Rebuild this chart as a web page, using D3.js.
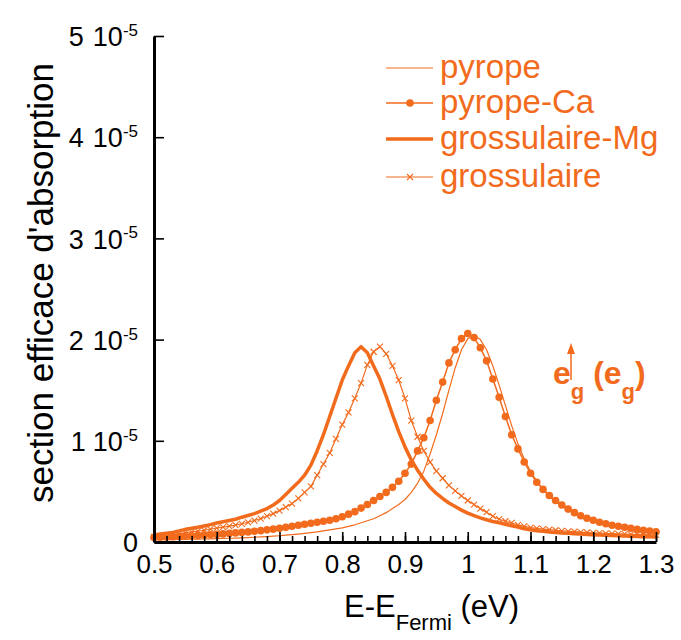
<!DOCTYPE html>
<html>
<head>
  <meta charset="utf-8">
  <title>section efficace d'absorption</title>
  <script src="https://cdn.jsdelivr.net/npm/d3@7/dist/d3.min.js"></script>
  <style>
    body { margin: 0; background: #fff; }
    text { font-family: "Liberation Sans", Arial, sans-serif; }
  </style>
</head>
<body>
  <svg width="681" height="640" id="mainsvg"></svg>
  <script>
    // energies (eV), values in units of 1e-5
    const energies = [0.50, 0.51, 0.52, 0.53, 0.54, 0.55, 0.56, 0.57, 0.58, 0.59,
      0.60, 0.61, 0.62, 0.63, 0.64, 0.65, 0.66, 0.67, 0.68, 0.69,
      0.70, 0.71, 0.72, 0.73, 0.74, 0.75, 0.76, 0.77, 0.78, 0.79,
      0.80, 0.81, 0.82, 0.83, 0.84, 0.85, 0.86, 0.87, 0.88, 0.89,
      0.90, 0.91, 0.92, 0.93, 0.94, 0.95, 0.96, 0.97, 0.98, 0.99,
      1.00, 1.01, 1.02, 1.03, 1.04, 1.05, 1.06, 1.07, 1.08, 1.09,
      1.10, 1.11, 1.12, 1.13, 1.14, 1.15, 1.16, 1.17, 1.18, 1.19,
      1.20, 1.21, 1.22, 1.23, 1.24, 1.25, 1.26, 1.27, 1.28, 1.29, 1.30];

    const pyrope = [0.021, 0.022, 0.023, 0.024, 0.025, 0.026, 0.027, 0.028, 0.030, 0.031,
      0.033, 0.035, 0.037, 0.039, 0.041, 0.044, 0.047, 0.050, 0.054, 0.058,
      0.062, 0.067, 0.072, 0.078, 0.085, 0.092, 0.100, 0.110, 0.120, 0.130,
      0.140, 0.155, 0.170, 0.190, 0.210, 0.230, 0.260, 0.290, 0.330, 0.370,
      0.420, 0.490, 0.580, 0.700, 0.870, 1.060, 1.270, 1.500, 1.720, 1.900,
      2.010, 2.040, 2.000, 1.900, 1.740, 1.550, 1.350, 1.150, 0.970, 0.820,
      0.700, 0.600, 0.520, 0.450, 0.400, 0.355, 0.315, 0.280, 0.250, 0.225,
      0.205, 0.185, 0.170, 0.155, 0.143, 0.132, 0.122, 0.113, 0.105, 0.098, 0.092];

    const pyropeCa = [0.045, 0.047, 0.050, 0.052, 0.055, 0.058, 0.062, 0.065, 0.068, 0.072,
      0.075, 0.080, 0.085, 0.090, 0.095, 0.100, 0.105, 0.112, 0.120, 0.127,
      0.135, 0.145, 0.155, 0.165, 0.175, 0.185, 0.195, 0.205, 0.215, 0.230,
      0.250, 0.275, 0.300, 0.335, 0.370, 0.410, 0.450, 0.490, 0.540, 0.600,
      0.680, 0.770, 0.900, 1.030, 1.200, 1.400, 1.580, 1.770, 1.900, 2.010,
      2.060, 2.020, 1.920, 1.790, 1.610, 1.430, 1.240, 1.060, 0.920, 0.790,
      0.680, 0.590, 0.520, 0.460, 0.410, 0.365, 0.325, 0.290, 0.260, 0.235,
      0.215, 0.195, 0.180, 0.165, 0.155, 0.145, 0.135, 0.125, 0.115, 0.108, 0.100];

    const grossulaireMg = [0.070, 0.078, 0.086, 0.094, 0.110, 0.125, 0.135, 0.145, 0.158, 0.172,
      0.188, 0.200, 0.212, 0.225, 0.245, 0.262, 0.280, 0.305, 0.330, 0.365,
      0.410, 0.470, 0.530, 0.590, 0.660, 0.760, 0.900, 1.060, 1.240, 1.420,
      1.600, 1.740, 1.870, 1.930, 1.870, 1.740, 1.610, 1.440, 1.260, 1.090,
      0.940, 0.810, 0.710, 0.620, 0.540, 0.480, 0.430, 0.385, 0.350, 0.315,
      0.285, 0.260, 0.238, 0.220, 0.203, 0.190, 0.175, 0.160, 0.148, 0.130,
      0.120, 0.112, 0.105, 0.099, 0.094, 0.090, 0.086, 0.082, 0.078, 0.075,
      0.072, 0.069, 0.066, 0.063, 0.061, 0.059, 0.057, 0.055, 0.053, 0.051, 0.050];

    const grossulaire = [0.050, 0.058, 0.065, 0.072, 0.080, 0.092, 0.100, 0.108, 0.116, 0.127,
      0.138, 0.147, 0.156, 0.167, 0.180, 0.195, 0.212, 0.230, 0.255, 0.280,
      0.310, 0.345, 0.380, 0.430, 0.490, 0.550, 0.660, 0.770, 0.880, 1.020,
      1.160, 1.280, 1.420, 1.570, 1.750, 1.880, 1.930, 1.860, 1.740, 1.600,
      1.420, 1.200, 1.040, 0.900, 0.790, 0.700, 0.630, 0.560, 0.505, 0.455,
      0.410, 0.370, 0.330, 0.295, 0.255, 0.225, 0.205, 0.188, 0.170, 0.155,
      0.142, 0.135, 0.128, 0.122, 0.116, 0.111, 0.106, 0.102, 0.098, 0.094,
      0.090, 0.087, 0.085, 0.082, 0.080, 0.078, 0.076, 0.074, 0.072, 0.071, 0.070];

    const seriesNames = ['pyrope', 'pyrope-Ca', 'grossulaire-Mg', 'grossulaire'];
    const xTicks = [0.5, 0.6, 0.7, 0.8, 0.9, 1, 1.1, 1.2, 1.3];
    const yTicks = [0, 1, 2, 3, 4, 5];

    const orange = '#f26b1d';
    const svg = d3.select('#mainsvg');

    const xScale = d3.scaleLinear().domain([0.5, 1.3]).range([154, 656]);
    const yScale = d3.scaleLinear().domain([0, 5]).range([542, 36]);

    const series = [
      { name: seriesNames[0], values: pyrope, width: 1.2, marker: 'none' },
      { name: seriesNames[1], values: pyropeCa, width: 1.5, marker: 'dot' },
      { name: seriesNames[2], values: grossulaireMg, width: 3.5, marker: 'none' },
      { name: seriesNames[3], values: grossulaire, width: 1.2, marker: 'cross' }
    ];

    const line = d3.line()
      .x((d, i) => xScale(energies[i]))
      .y(d => yScale(d));

    const plot = svg.append('g');
    series.forEach(s => {
      plot.append('path')
        .attr('d', line(s.values))
        .attr('fill', 'none')
        .attr('stroke', orange)
        .attr('stroke-width', s.width)
        .attr('stroke-linejoin', 'round');
      if (s.marker === 'dot') {
        plot.selectAll(null).data(s.values).enter().append('circle')
          .attr('cx', (d, i) => xScale(energies[i]))
          .attr('cy', d => yScale(d))
          .attr('r', 3.8)
          .attr('fill', orange);
      }
      if (s.marker === 'cross') {
        plot.selectAll(null).data(s.values).enter().append('path')
          .attr('transform', (d, i) => `translate(${xScale(energies[i])},${yScale(d)})`)
          .attr('d', 'M-3,-3L3,3M-3,3L3,-3')
          .attr('stroke', orange)
          .attr('stroke-width', 1.1);
      }
    });

    // x axis, ticks inward
    const xMinor = d3.axisBottom(xScale)
      .tickValues(d3.range(0.5, 1.301, 0.02))
      .tickSizeInner(-6).tickSizeOuter(0).tickFormat('');
    svg.append('g').attr('transform', 'translate(0,542)').call(xMinor)
      .call(g => g.select('.domain').remove())
      .selectAll('line').attr('stroke', '#000').attr('stroke-width', 1.6);

    const xAxis = d3.axisBottom(xScale)
      .tickValues(xTicks)
      .tickSizeInner(-10).tickSizeOuter(0).tickPadding(13)
      .tickFormat(d => d3.format('')(d));
    const xg = svg.append('g').attr('transform', 'translate(0,542)').call(xAxis);
    xg.select('.domain').attr('stroke', '#000').attr('stroke-width', 3);
    xg.selectAll('line').attr('stroke-width', 1.6);
    xg.selectAll('text').attr('font-size', 26).attr('fill', '#000')
      .style('font-family', '"Liberation Sans", Arial, sans-serif');

    // y axis
    const yAxis = d3.axisLeft(yScale)
      .tickValues(yTicks)
      .tickSizeInner(-10).tickSizeOuter(0).tickFormat('');
    const yg = svg.append('g').attr('transform', 'translate(154,0)').call(yAxis);
    yg.select('.domain').attr('stroke', '#000').attr('stroke-width', 3);
    yg.selectAll('line').attr('stroke-width', 1.6);
    yg.selectAll('.tick').each(function (d) {
      const t = d3.select(this).append('text')
        .attr('x', -16).attr('dy', '0.36em')
        .attr('text-anchor', 'end')
        .attr('font-size', 27).attr('fill', '#000')
        .style('font-family', '"Liberation Sans", Arial, sans-serif');
      if (d === 0) {
        t.text('0');
      } else {
        t.append('tspan').text(d);
        t.append('tspan').attr('dx', 9).text('10');
        t.append('tspan').attr('font-size', 17).attr('dy', '-0.6em').text('-5');
      }
    });

    // axis titles
    const xTitle = svg.append('text')
      .attr('x', 344).attr('y', 617)
      .attr('font-size', 31).attr('fill', '#000');
    xTitle.append('tspan').text('E-E');
    xTitle.append('tspan').attr('font-size', 22).attr('dy', 13).text('Fermi');
    xTitle.append('tspan').attr('dy', -13).text(' (eV)');

    svg.append('text')
      .attr('transform', 'translate(53,283) rotate(-90)')
      .attr('text-anchor', 'middle')
      .attr('font-size', 35).attr('fill', '#000')
      .text("section efficace d'absorption");

    // legend
    const legendRows = [68, 103, 139, 177];
    series.forEach((s, i) => {
      const y = legendRows[i];
      svg.append('line')
        .attr('x1', 386).attr('x2', 433).attr('y1', y).attr('y2', y)
        .attr('stroke', orange).attr('stroke-width', s.width);
      if (s.marker === 'dot') {
        svg.append('circle').attr('cx', 410).attr('cy', y).attr('r', 3.8).attr('fill', orange);
      }
      if (s.marker === 'cross') {
        svg.append('path').attr('transform', `translate(410,${y})`)
          .attr('d', 'M-3,-3L3,3M-3,3L3,-3')
          .attr('stroke', orange).attr('stroke-width', 1.1);
      }
      svg.append('text')
        .attr('x', 440).attr('y', y + 10)
        .attr('font-size', 33).attr('fill', orange)
        .text(s.name);
    });

    // polarisation annotation
    const ann = svg.append('g').attr('fill', orange).attr('font-weight', 'bold');
    const a = ann.append('text').attr('x', 553).attr('y', 384).attr('font-size', 32);
    a.append('tspan').text('e');
    a.append('tspan').attr('font-size', 22).attr('dy', 15).text('g');
    a.append('tspan').attr('dy', -15).text(' (e');
    a.append('tspan').attr('font-size', 22).attr('dy', 15).text('g');
    a.append('tspan').attr('dy', -15).text(')');
    ann.append('line')
      .attr('x1', 571).attr('x2', 571).attr('y1', 380).attr('y2', 350)
      .attr('stroke', orange).attr('stroke-width', 1.5);
    ann.append('path')
      .attr('d', 'M567,354L571,343L575,354Z')
      .attr('fill', orange);
  </script>
</body>
</html>
